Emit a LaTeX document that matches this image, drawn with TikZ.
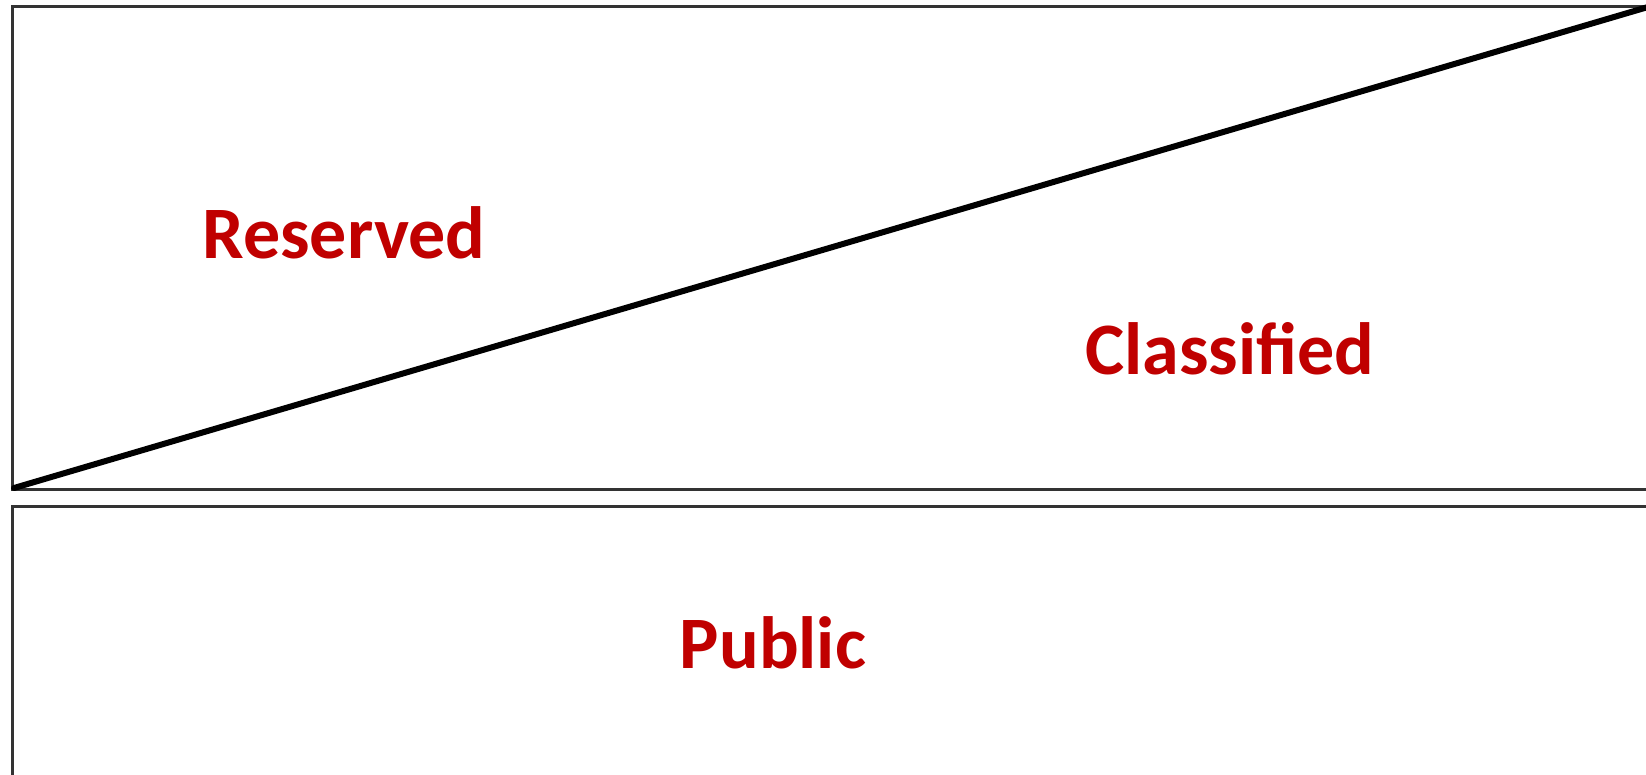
\documentclass[tikz,border=0pt]{standalone}
\usepackage{fontspec}
\setmainfont{Carlito}
\definecolor{lbl}{HTML}{C00000}
\definecolor{frame}{HTML}{333333}
\tikzset{
  panel/.style={draw=frame, line width=3pt, fill=white},
  divider/.style={draw=black, line width=6pt, line cap=round},
  lab/.style={text=lbl, font=\fontsize{74}{88}\selectfont\bfseries, anchor=base, inner sep=0pt}
}
\begin{document}
\begin{tikzpicture}[x=1pt,y=1pt]
\useasboundingbox (0,0) rectangle (1646,774);
\clip (0,0) rectangle (1646,774);
\fill[white] (0,0) rectangle (1646,774);
% panels
\coordinate (tl) at (12,767);
\coordinate (tr) at (1652,284);
\coordinate (bl) at (12,267);
\coordinate (br) at (1652,-20);
\draw[panel] (tl) rectangle (tr);
\draw[panel] (bl) rectangle (br);
% divider
\coordinate (dA) at (14,286);
\coordinate (dB) at (1648,767);
\draw[divider] (dA) -- (dB);
% labels
\node[lab] (reserved) at (344,515) {Reserved};
\node[lab] (classified) at (1230,399) {Classified};
\node[lab] (public) at (773,106) {Public};
\end{tikzpicture}
\end{document}
